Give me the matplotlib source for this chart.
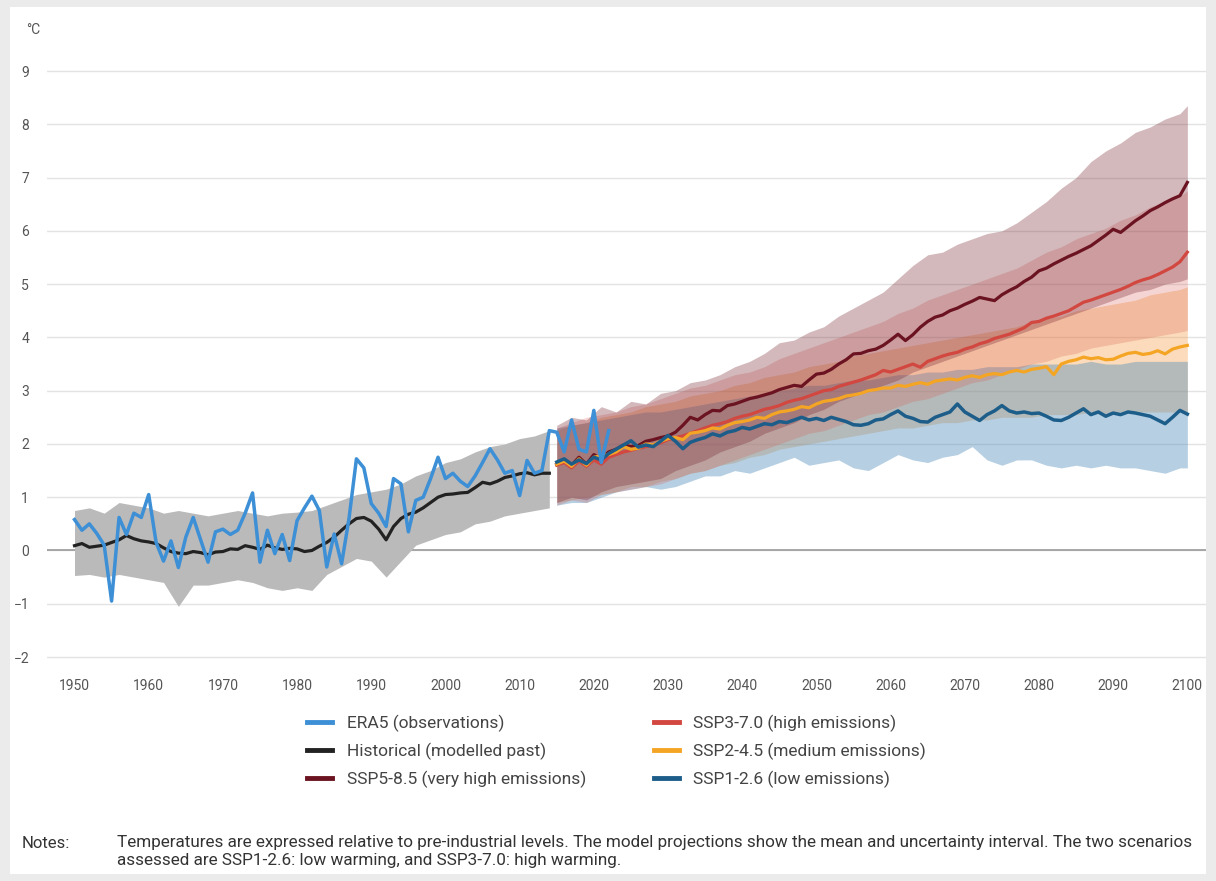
import matplotlib
matplotlib.use('Agg')
import matplotlib.pyplot as plt
import numpy as np
from matplotlib.lines import Line2D
from matplotlib.patches import Rectangle

plt.rcParams['font.family'] = ['Roboto', 'DejaVu Sans']

# ---- data (deg C vs pre-industrial) ----
era5_years = list(range(1950, 2023))
era5 = [0.58, 0.38, 0.50, 0.32, 0.10, -0.95, 0.62, 0.30, 0.70, 0.62,
        1.05, 0.15, -0.20, 0.18, -0.32, 0.25, 0.62, 0.20, -0.22, 0.35,
        0.40, 0.30, 0.38, 0.70, 1.08, -0.22, 0.38, -0.06, 0.30, -0.19,
        0.56, 0.80, 1.02, 0.75, -0.31, 0.31, -0.25, 0.60, 1.72, 1.55,
        0.88, 0.70, 0.45, 1.35, 1.25, 0.35, 0.94, 1.00, 1.35, 1.75,
        1.35, 1.45, 1.30, 1.20, 1.40, 1.65, 1.91, 1.70, 1.45, 1.50,
        1.03, 1.69, 1.45, 1.50, 2.25, 2.22, 1.85, 2.45, 1.90, 1.85,
        2.63, 1.65, 2.25]

hist_years = list(range(1950, 2015))
hist_mean = [0.09, 0.13, 0.06, 0.08, 0.10, 0.15, 0.20, 0.28, 0.22, 0.18,
             0.16, 0.13, 0.05, -0.02, -0.05, -0.06, -0.02, -0.04, -0.08, -0.03,
             -0.02, 0.03, 0.02, 0.09, 0.06, 0.02, 0.10, 0.05, 0.02, 0.04,
             0.03, -0.02, 0.00, 0.08, 0.15, 0.25, 0.38, 0.50, 0.60, 0.62,
             0.55, 0.40, 0.20, 0.45, 0.60, 0.68, 0.72, 0.80, 0.90, 1.00,
             1.05, 1.06, 1.08, 1.09, 1.18, 1.28, 1.25, 1.30, 1.37, 1.40,
             1.44, 1.46, 1.42, 1.45, 1.45]

hist_band_years = list(range(1950, 2015, 2))
hist_high = [0.75, 0.80, 0.70, 0.90, 0.85, 0.80, 0.70, 0.75, 0.70, 0.65,
             0.70, 0.75, 0.70, 0.65, 0.70, 0.72, 0.75, 0.85, 0.95, 1.05,
             1.10, 1.15, 1.25, 1.40, 1.50, 1.65, 1.72, 1.85, 1.95, 2.00,
             2.10, 2.15, 2.25]
hist_low = [-0.47, -0.45, -0.50, -0.45, -0.50, -0.55, -0.60, -1.05, -0.65, -0.65,
            -0.60, -0.55, -0.60, -0.70, -0.75, -0.70, -0.75, -0.45, -0.30, -0.15,
            -0.20, -0.50, -0.20, 0.10, 0.20, 0.30, 0.35, 0.50, 0.55, 0.65,
            0.70, 0.75, 0.80]

proj_years = list(range(2015, 2101))
ssp126 = [1.66, 1.72, 1.62, 1.70, 1.63, 1.75, 1.70, 1.82, 1.90, 1.98,
          2.06, 1.94, 1.98, 1.95, 2.05, 2.16, 2.05, 1.91, 2.03, 2.08,
          2.12, 2.19, 2.15, 2.22, 2.25, 2.31, 2.28, 2.33, 2.38, 2.36,
          2.42, 2.40, 2.45, 2.50, 2.45, 2.48, 2.44, 2.50, 2.46, 2.42,
          2.36, 2.35, 2.38, 2.45, 2.47, 2.55, 2.62, 2.52, 2.48, 2.42,
          2.41, 2.50, 2.55, 2.60, 2.75, 2.60, 2.52, 2.44, 2.55, 2.62,
          2.72, 2.62, 2.58, 2.60, 2.57, 2.58, 2.52, 2.45, 2.44, 2.50,
          2.58, 2.66, 2.55, 2.60, 2.52, 2.58, 2.55, 2.60, 2.58, 2.55,
          2.52, 2.45, 2.38, 2.50, 2.63, 2.56]
ssp245 = [1.62, 1.68, 1.58, 1.72, 1.60, 1.75, 1.78, 1.80, 1.85, 1.95,
          1.90, 1.92, 2.00, 1.98, 2.05, 2.10, 2.12, 2.08, 2.20, 2.22,
          2.25, 2.30, 2.28, 2.35, 2.40, 2.42, 2.45, 2.50, 2.48, 2.55,
          2.60, 2.62, 2.65, 2.70, 2.68, 2.75, 2.80, 2.82, 2.85, 2.90,
          2.92, 2.95, 3.00, 3.02, 3.05, 3.05, 3.10, 3.08, 3.12, 3.15,
          3.12, 3.18, 3.20, 3.22, 3.20, 3.25, 3.28, 3.25, 3.30, 3.32,
          3.30, 3.35, 3.38, 3.35, 3.40, 3.42, 3.45, 3.30, 3.50, 3.55,
          3.58, 3.63, 3.60, 3.62, 3.58, 3.59, 3.65, 3.70, 3.72, 3.68,
          3.70, 3.75, 3.69, 3.78, 3.82, 3.85]
ssp370 = [1.60, 1.65, 1.55, 1.68, 1.58, 1.70, 1.62, 1.75, 1.80, 1.85,
          1.88, 1.92, 1.95, 1.98, 2.02, 2.08, 2.12, 2.15, 2.20, 2.25,
          2.30, 2.35, 2.38, 2.42, 2.48, 2.52, 2.55, 2.60, 2.65, 2.68,
          2.72, 2.78, 2.82, 2.85, 2.90, 2.95, 3.00, 3.02, 3.08, 3.12,
          3.16, 3.20, 3.25, 3.30, 3.38, 3.35, 3.40, 3.45, 3.50, 3.44,
          3.55, 3.60, 3.65, 3.69, 3.72, 3.78, 3.82, 3.88, 3.92, 3.98,
          4.02, 4.06, 4.12, 4.18, 4.28, 4.30, 4.36, 4.40, 4.45, 4.50,
          4.58, 4.66, 4.70, 4.75, 4.80, 4.85, 4.90, 4.96, 5.03, 5.08,
          5.12, 5.18, 5.25, 5.32, 5.42, 5.60]
ssp585 = [1.62, 1.70, 1.60, 1.75, 1.62, 1.80, 1.72, 1.85, 1.90, 1.98,
          1.95, 1.97, 2.05, 2.08, 2.12, 2.15, 2.22, 2.35, 2.50, 2.45,
          2.55, 2.63, 2.62, 2.72, 2.75, 2.80, 2.85, 2.88, 2.92, 2.96,
          3.02, 3.06, 3.10, 3.08, 3.20, 3.31, 3.33, 3.40, 3.50, 3.58,
          3.69, 3.70, 3.75, 3.78, 3.85, 3.95, 4.06, 3.94, 4.05, 4.19,
          4.30, 4.38, 4.42, 4.50, 4.55, 4.62, 4.68, 4.75, 4.72, 4.69,
          4.80, 4.88, 4.95, 5.05, 5.13, 5.25, 5.30, 5.38, 5.45, 5.52,
          5.58, 5.65, 5.72, 5.82, 5.92, 6.03, 5.97, 6.08, 6.19, 6.28,
          6.38, 6.45, 6.53, 6.60, 6.66, 6.91]

band_years = list(range(2015, 2100, 2)) + [2100]
ssp126_high = [2.30, 2.35, 2.40, 2.45, 2.50, 2.55, 2.60, 2.60, 2.65, 2.70,
               2.75, 2.80, 2.85, 2.90, 2.95, 3.00, 3.05, 3.10, 3.10, 3.15,
               3.20, 3.20, 3.25, 3.30, 3.30, 3.35, 3.35, 3.40, 3.40, 3.45,
               3.45, 3.45, 3.50, 3.50, 3.50, 3.50, 3.55, 3.50, 3.50, 3.55,
               3.55, 3.55, 3.55, 3.55]
ssp126_low = [0.85, 0.90, 0.90, 1.00, 1.10, 1.15, 1.20, 1.15, 1.20, 1.30,
              1.40, 1.40, 1.50, 1.45, 1.55, 1.65, 1.75, 1.60, 1.65, 1.70,
              1.55, 1.50, 1.65, 1.80, 1.70, 1.65, 1.75, 1.80, 1.95, 1.70,
              1.60, 1.70, 1.70, 1.60, 1.55, 1.60, 1.55, 1.60, 1.55, 1.55,
              1.50, 1.45, 1.55, 1.55]
ssp245_high = [2.25, 2.35, 2.40, 2.50, 2.55, 2.60, 2.70, 2.75, 2.80, 2.90,
               2.95, 3.00, 3.10, 3.15, 3.25, 3.30, 3.35, 3.45, 3.50, 3.55,
               3.65, 3.70, 3.75, 3.80, 3.85, 3.90, 3.95, 4.00, 4.05, 4.10,
               4.15, 4.20, 4.30, 4.35, 4.40, 4.50, 4.55, 4.60, 4.65, 4.70,
               4.80, 4.85, 4.90, 4.95]
ssp245_low = [0.90, 0.95, 1.00, 1.05, 1.10, 1.20, 1.20, 1.30, 1.35, 1.45,
              1.50, 1.60, 1.65, 1.75, 1.80, 1.90, 1.95, 2.00, 2.05, 2.10,
              2.15, 2.20, 2.25, 2.30, 2.30, 2.35, 2.40, 2.40, 2.45, 2.45,
              2.50, 2.50, 2.50, 2.55, 2.55, 2.55, 2.60, 2.55, 2.60, 2.60,
              2.60, 2.60, 2.60, 2.60]
ssp370_high = [2.30, 2.40, 2.50, 2.55, 2.60, 2.70, 2.75, 2.85, 2.95, 3.05,
               3.10, 3.20, 3.30, 3.35, 3.45, 3.60, 3.70, 3.80, 3.90, 4.00,
               4.10, 4.20, 4.30, 4.45, 4.55, 4.70, 4.80, 4.90, 5.00, 5.10,
               5.20, 5.30, 5.45, 5.60, 5.70, 5.85, 5.95, 6.05, 6.20, 6.30,
               6.45, 6.55, 6.65, 6.75]
ssp370_low = [0.85, 0.95, 0.90, 1.05, 1.10, 1.15, 1.20, 1.25, 1.35, 1.45,
              1.50, 1.60, 1.70, 1.80, 1.90, 2.00, 2.10, 2.20, 2.25, 2.35,
              2.45, 2.55, 2.60, 2.70, 2.80, 2.85, 2.95, 3.05, 3.15, 3.20,
              3.30, 3.40, 3.50, 3.55, 3.65, 3.70, 3.80, 3.85, 3.90, 3.95,
              4.00, 4.05, 4.10, 4.13]
ssp585_high = [2.35, 2.50, 2.45, 2.70, 2.60, 2.80, 2.75, 2.95, 3.00, 3.15,
               3.20, 3.30, 3.45, 3.55, 3.70, 3.90, 3.95, 4.10, 4.20, 4.40,
               4.55, 4.70, 4.85, 5.10, 5.35, 5.55, 5.60, 5.75, 5.85, 5.95,
               6.00, 6.15, 6.35, 6.55, 6.80, 7.00, 7.30, 7.50, 7.65, 7.85,
               7.95, 8.10, 8.20, 8.35]
ssp585_low = [0.90, 1.00, 0.95, 1.10, 1.20, 1.25, 1.30, 1.35, 1.50, 1.60,
              1.70, 1.85, 1.95, 2.05, 2.20, 2.30, 2.40, 2.55, 2.65, 2.80,
              2.90, 3.00, 3.10, 3.20, 3.35, 3.45, 3.55, 3.65, 3.75, 3.85,
              3.95, 4.05, 4.15, 4.25, 4.35, 4.45, 4.55, 4.65, 4.75, 4.85,
              4.90, 5.00, 5.05, 5.10]

labels = ['ERA5 (observations)', 'Historical (modelled past)',
          'SSP5-8.5 (very high emissions)', 'SSP3-7.0 (high emissions)',
          'SSP2-4.5 (medium emissions)', 'SSP1-2.6 (low emissions)']

c_era5 = '#3d8fd6'
c_hist = '#222222'
c_585 = '#6b1320'
c_370 = '#d2473f'
c_245 = '#f5a524'
c_126 = '#1d5d8a'

fig = plt.figure(figsize=(12.16, 8.81), dpi=100, facecolor='#ebebeb')
fig.add_artist(Rectangle((10 / 1216, 7 / 881), 1196 / 1216, 867 / 881,
                         transform=fig.transFigure, facecolor='white',
                         edgecolor='none', zorder=-5))

ax = fig.add_axes([0.0387, 0.2482, 0.953, 0.6772])
ax.set_facecolor('white')

# uncertainty bands
ax.fill_between(hist_band_years, hist_low, hist_high, color='#bababa', lw=0, zorder=2)
ax.fill_between(band_years, ssp245_low, ssp245_high, color='#f59a3c', alpha=0.35, lw=0, zorder=2)
ax.fill_between(band_years, ssp126_low, ssp126_high, color='#4a89b8', alpha=0.4, lw=0, zorder=2)
ax.fill_between(band_years, ssp370_low, ssp370_high, color='#d9534a', alpha=0.24, lw=0, zorder=2)
ax.fill_between(band_years, ssp585_low, ssp585_high, color='#7a2a35', alpha=0.33, lw=0, zorder=2)

# mean lines
ax.plot(hist_years, hist_mean, color=c_hist, lw=2.3, zorder=4)
ax.plot(proj_years, ssp585, color=c_585, lw=2.3, zorder=4)
ax.plot(proj_years, ssp370, color=c_370, lw=2.3, zorder=4)
ax.plot(proj_years, ssp245, color=c_245, lw=2.3, zorder=4)
ax.plot(proj_years, ssp126, color=c_126, lw=2.5, zorder=4)
ax.plot(era5_years, era5, color=c_era5, lw=2.5, zorder=5)

ax.axhline(0, color='#9a9a9a', lw=1.2, zorder=1)

ax.set_xlim(1946.3, 2102.5)
ax.set_ylim(-2.1, 9.1)
ax.set_xticks(range(1950, 2101, 10))
ax.set_yticks(range(-2, 10))
ax.yaxis.grid(True, color='#e3e3e3', lw=1)
ax.set_axisbelow(True)
for s in ax.spines.values():
    s.set_visible(False)
ax.tick_params(axis='both', length=0, labelsize=10, labelcolor='#555555')
ax.tick_params(axis='x', pad=12)
ax.tick_params(axis='y', pad=13)

fig.text(26 / 1216, 1 - 30 / 881, '°C', fontsize=10, color='#555555', va='center')

handles = [Line2D([], [], color=c, lw=3.5) for c in
           [c_era5, c_hist, c_585, c_370, c_245, c_126]]
fig.legend(handles, labels, ncol=2, loc='upper left',
           bbox_to_anchor=(291 / 1216, 1 - 699 / 881), frameon=False,
           fontsize=12.5, labelcolor='#444444', handlelength=1.45,
           handletextpad=0.85, columnspacing=3.9, labelspacing=0.62)

fig.text(22 / 1216, 1 - 843 / 881, 'Notes:', fontsize=12, color='#333333', va='center')
fig.text(117 / 1216, 1 - 843 / 881,
         'Temperatures are expressed relative to pre-industrial levels. The model projections '
         'show the mean and uncertainty interval. The two scenarios',
         fontsize=12.3, color='#333333', va='center')
fig.text(117 / 1216, 1 - 861 / 881,
         'assessed are SSP1-2.6: low warming, and SSP3-7.0: high warming.',
         fontsize=12.3, color='#333333', va='center')

fig.savefig('out.png', dpi=100, facecolor=fig.get_facecolor())
